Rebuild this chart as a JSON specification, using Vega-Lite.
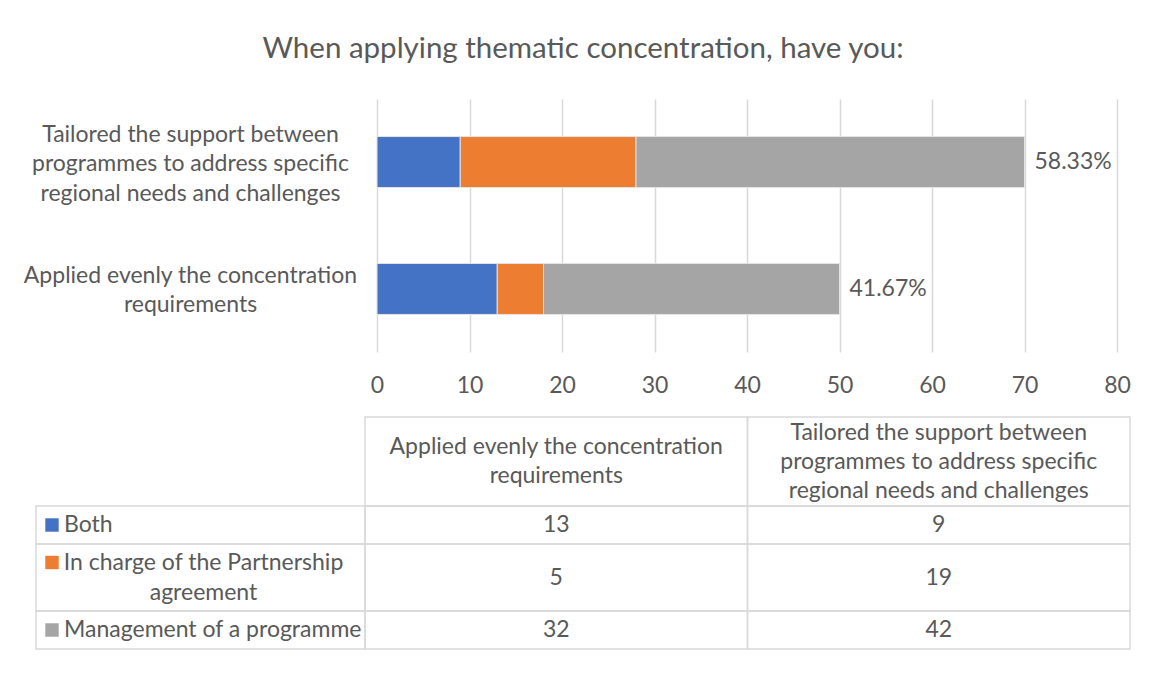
{
  "$schema": "https://vega.github.io/schema/vega-lite/v6.json",
  "width": 740,
  "height": 253,
  "autosize": {"type": "none"},
  "padding": {"left": 377, "top": 99, "right": 32, "bottom": 323},
  "background": "white",
  "config": {
    "font": "Lato",
    "view": {"stroke": null},
    "text": {"font": "Lato", "fontSize": 23, "color": "#595959", "baseline": "middle"}
  },
  "title": {
    "text": "When applying thematic concentration, have you:",
    "anchor": "middle",
    "frame": "group",
    "dx": -164,
    "offset": 12,
    "baseline": "alphabetic",
    "font": "Lato",
    "fontSize": 29.5,
    "fontWeight": "normal",
    "color": "#595959"
  },
  "datasets": {
    "counts": [
      {"category": "Applied evenly the concentration requirements", "series": "Both", "value": 13},
      {"category": "Applied evenly the concentration requirements", "series": "In charge of the Partnership agreement", "value": 5},
      {"category": "Applied evenly the concentration requirements", "series": "Management of a programme", "value": 32},
      {"category": "Tailored the support between programmes to address specific regional needs and challenges", "series": "Both", "value": 9},
      {"category": "Tailored the support between programmes to address specific regional needs and challenges", "series": "In charge of the Partnership agreement", "value": 19},
      {"category": "Tailored the support between programmes to address specific regional needs and challenges", "series": "Management of a programme", "value": 42}
    ],
    "shares": [
      {"category": "Applied evenly the concentration requirements", "share": 0.4167},
      {"category": "Tailored the support between programmes to address specific regional needs and challenges", "share": 0.5833}
    ]
  },
  "data": {"name": "counts"},
  "layer": [
    {
      "layer": [
        {
          "mark": {"type": "bar", "stroke": "#e4e4e4", "strokeWidth": 1},
          "encoding": {
            "y": {
              "field": "category", "type": "nominal",
              "scale": {"domain": ["Tailored the support between programmes to address specific regional needs and challenges", "Applied evenly the concentration requirements"], "paddingInner": 0.598, "paddingOuter": 0.296},
              "axis": {
                "title": null, "domain": false, "ticks": false, "tickSize": 0,
                "labelAlign": "center", "labelBaseline": "middle", "labelPadding": 187, "labelLimit": 400,
                "labelFont": "Lato", "labelFontSize": 23, "labelColor": "#595959", "labelLineHeight": 29.5,
                "labelOffset": {"condition": {"test": "datum.value == 'Applied evenly the concentration requirements'", "value": -13}, "value": -27.5},
                "labelExpr": "datum.value == 'Applied evenly the concentration requirements' ? ['Applied evenly the concentration', 'requirements'] : ['Tailored the support between', 'programmes to address specific', 'regional needs and challenges']"
              }
            },
            "x": {
              "field": "value", "type": "quantitative", "stack": "zero",
              "scale": {"domain": [0, 80], "nice": false},
              "axis": {
                "title": null, "values": [0, 10, 20, 30, 40, 50, 60, 70, 80], "domain": false, "ticks": false, "tickSize": 0,
                "grid": true, "gridColor": "#d9d9d9", "gridWidth": 1.5, "labelFlush": false,
                "labelFont": "Lato", "labelFontSize": 23, "labelColor": "#595959", "labelPadding": 22
              }
            },
            "color": {
              "field": "series", "type": "nominal",
              "scale": {"domain": ["Both", "In charge of the Partnership agreement", "Management of a programme"], "range": ["#4472C4", "#ED7D31", "#A5A5A5"]},
              "legend": null
            }
          }
        },
        {
          "transform": [
            {"aggregate": [{"op": "sum", "field": "value", "as": "total"}], "groupby": ["category"]},
            {"lookup": "category", "from": {"data": {"name": "shares"}, "key": "category", "fields": ["share"]}}
          ],
          "mark": {"type": "text", "align": "left", "dx": 10, "baseline": "middle"},
          "encoding": {
            "y": {"field": "category", "type": "nominal"},
            "x": {"field": "total", "type": "quantitative"},
            "text": {"field": "share", "type": "quantitative", "format": ".2%"}
          }
        }
      ]
    },
    {
      "transform": [
        {"aggregate": [{"op": "sum", "field": "value", "as": "total"}], "groupby": ["category"]},
        {"calculate": "datum.category == 'Applied evenly the concentration requirements' ? ['Applied evenly the concentration', 'requirements'] : ['Tailored the support between', 'programmes to address specific', 'regional needs and challenges']", "as": "lines"}
      ],
      "layer": [
        {
          "mark": {"type": "rect", "filled": false, "stroke": "#d9d9d9", "strokeWidth": 1.5},
          "encoding": {
            "x": {"field": "category", "type": "nominal", "scale": {"domain": ["Applied evenly the concentration requirements", "Tailored the support between programmes to address specific regional needs and challenges"], "range": [-12, 753], "paddingInner": 0, "paddingOuter": 0}, "axis": null},
            "y": {"datum": "header", "type": "nominal", "scale": {"domain": ["header"], "range": [318, 407], "paddingInner": 0, "paddingOuter": 0}, "axis": null}
          }
        },
        {
          "mark": {"type": "text", "align": "center", "baseline": "middle", "lineHeight": 29, "dy": {"expr": "-(length(datum.lines) - 1) * 14.5"}},
          "encoding": {
            "x": {"field": "category", "type": "nominal", "axis": null},
            "y": {"datum": "header", "type": "nominal", "axis": null},
            "text": {"field": "lines"}
          }
        }
      ]
    },
    {
      "transform": [{"filter": {"field": "series", "equal": "Both"}}],
      "resolve": {"scale": {"x": "independent"}},
      "layer": [
        {
          "layer": [
            {
              "mark": {"type": "rect", "filled": false, "stroke": "#d9d9d9", "strokeWidth": 1.5},
              "encoding": {
                "x": {"field": "category", "type": "nominal", "scale": {"domain": ["Applied evenly the concentration requirements", "Tailored the support between programmes to address specific regional needs and challenges"], "range": [-12, 753], "paddingInner": 0, "paddingOuter": 0}, "axis": null},
                "y": {"field": "series", "type": "nominal", "scale": {"domain": ["Both"], "range": [407, 445], "paddingInner": 0, "paddingOuter": 0}, "axis": null}
              }
            },
            {
              "mark": {"type": "text", "align": "center", "baseline": "middle"},
              "encoding": {
                "x": {"field": "category", "type": "nominal", "axis": null},
                "y": {"field": "series", "type": "nominal", "axis": null},
                "text": {"field": "value", "type": "quantitative"}
              }
            }
          ]
        },
        {
          "transform": [{"filter": {"field": "category", "equal": "Applied evenly the concentration requirements"}}],
          "layer": [
            {
              "mark": {"type": "rect", "filled": false, "stroke": "#d9d9d9", "strokeWidth": 1.5},
              "encoding": {
                "x": {"datum": "key", "type": "nominal", "scale": {"domain": ["key"], "range": [-341, -12], "paddingInner": 0, "paddingOuter": 0}, "axis": null},
                "y": {"field": "series", "type": "nominal", "scale": {"domain": ["Both"], "range": [407, 445], "paddingInner": 0, "paddingOuter": 0}, "axis": null}
              }
            },
            {
              "mark": {"type": "point", "shape": "square", "filled": true, "opacity": 1, "size": 180, "xOffset": 16},
              "encoding": {
                "x": {"datum": "key", "type": "nominal", "bandPosition": 0, "axis": null},
                "y": {"field": "series", "type": "nominal", "axis": null},
                "color": {"field": "series", "type": "nominal", "legend": null}
              }
            },
            {
              "mark": {"type": "text", "align": "left", "baseline": "middle", "dx": 28},
              "encoding": {
                "x": {"datum": "key", "type": "nominal", "bandPosition": 0, "axis": null},
                "y": {"field": "series", "type": "nominal", "axis": null},
                "text": {"field": "series", "type": "nominal"}
              }
            }
          ]
        }
      ]
    },
    {
      "transform": [{"filter": {"field": "series", "equal": "In charge of the Partnership agreement"}}],
      "resolve": {"scale": {"x": "independent"}},
      "layer": [
        {
          "layer": [
            {
              "mark": {"type": "rect", "filled": false, "stroke": "#d9d9d9", "strokeWidth": 1.5},
              "encoding": {
                "x": {"field": "category", "type": "nominal", "scale": {"domain": ["Applied evenly the concentration requirements", "Tailored the support between programmes to address specific regional needs and challenges"], "range": [-12, 753], "paddingInner": 0, "paddingOuter": 0}, "axis": null},
                "y": {"field": "series", "type": "nominal", "scale": {"domain": ["In charge of the Partnership agreement"], "range": [445, 512], "paddingInner": 0, "paddingOuter": 0}, "axis": null}
              }
            },
            {
              "mark": {"type": "text", "align": "center", "baseline": "middle"},
              "encoding": {
                "x": {"field": "category", "type": "nominal", "axis": null},
                "y": {"field": "series", "type": "nominal", "axis": null},
                "text": {"field": "value", "type": "quantitative"}
              }
            }
          ]
        },
        {
          "transform": [
            {"filter": {"field": "category", "equal": "Applied evenly the concentration requirements"}},
            {"calculate": "['In charge of the Partnership', 'agreement']", "as": "lines"}
          ],
          "layer": [
            {
              "mark": {"type": "rect", "filled": false, "stroke": "#d9d9d9", "strokeWidth": 1.5},
              "encoding": {
                "x": {"datum": "key", "type": "nominal", "scale": {"domain": ["key"], "range": [-341, -12], "paddingInner": 0, "paddingOuter": 0}, "axis": null},
                "y": {"field": "series", "type": "nominal", "scale": {"domain": ["In charge of the Partnership agreement"], "range": [445, 512], "paddingInner": 0, "paddingOuter": 0}, "axis": null}
              }
            },
            {
              "mark": {"type": "point", "shape": "square", "filled": true, "opacity": 1, "size": 180, "xOffset": 16, "yOffset": -15},
              "encoding": {
                "x": {"datum": "key", "type": "nominal", "bandPosition": 0, "axis": null},
                "y": {"field": "series", "type": "nominal", "axis": null},
                "color": {"field": "series", "type": "nominal", "legend": null}
              }
            },
            {
              "mark": {"type": "text", "align": "center", "baseline": "middle", "lineHeight": 30, "dy": -15, "dx": 3},
              "encoding": {
                "x": {"datum": "key", "type": "nominal", "axis": null},
                "y": {"field": "series", "type": "nominal", "axis": null},
                "text": {"field": "lines"}
              }
            }
          ]
        }
      ]
    },
    {
      "transform": [{"filter": {"field": "series", "equal": "Management of a programme"}}],
      "resolve": {"scale": {"x": "independent"}},
      "layer": [
        {
          "layer": [
            {
              "mark": {"type": "rect", "filled": false, "stroke": "#d9d9d9", "strokeWidth": 1.5},
              "encoding": {
                "x": {"field": "category", "type": "nominal", "scale": {"domain": ["Applied evenly the concentration requirements", "Tailored the support between programmes to address specific regional needs and challenges"], "range": [-12, 753], "paddingInner": 0, "paddingOuter": 0}, "axis": null},
                "y": {"field": "series", "type": "nominal", "scale": {"domain": ["Management of a programme"], "range": [512, 550], "paddingInner": 0, "paddingOuter": 0}, "axis": null}
              }
            },
            {
              "mark": {"type": "text", "align": "center", "baseline": "middle"},
              "encoding": {
                "x": {"field": "category", "type": "nominal", "axis": null},
                "y": {"field": "series", "type": "nominal", "axis": null},
                "text": {"field": "value", "type": "quantitative"}
              }
            }
          ]
        },
        {
          "transform": [{"filter": {"field": "category", "equal": "Applied evenly the concentration requirements"}}],
          "layer": [
            {
              "mark": {"type": "rect", "filled": false, "stroke": "#d9d9d9", "strokeWidth": 1.5},
              "encoding": {
                "x": {"datum": "key", "type": "nominal", "scale": {"domain": ["key"], "range": [-341, -12], "paddingInner": 0, "paddingOuter": 0}, "axis": null},
                "y": {"field": "series", "type": "nominal", "scale": {"domain": ["Management of a programme"], "range": [512, 550], "paddingInner": 0, "paddingOuter": 0}, "axis": null}
              }
            },
            {
              "mark": {"type": "point", "shape": "square", "filled": true, "opacity": 1, "size": 180, "xOffset": 16},
              "encoding": {
                "x": {"datum": "key", "type": "nominal", "bandPosition": 0, "axis": null},
                "y": {"field": "series", "type": "nominal", "axis": null},
                "color": {"field": "series", "type": "nominal", "legend": null}
              }
            },
            {
              "mark": {"type": "text", "align": "left", "baseline": "middle", "dx": 28},
              "encoding": {
                "x": {"datum": "key", "type": "nominal", "bandPosition": 0, "axis": null},
                "y": {"field": "series", "type": "nominal", "axis": null},
                "text": {"field": "series", "type": "nominal"}
              }
            }
          ]
        }
      ]
    }
  ],
  "resolve": {"scale": {"x": "independent", "y": "independent"}}
}
